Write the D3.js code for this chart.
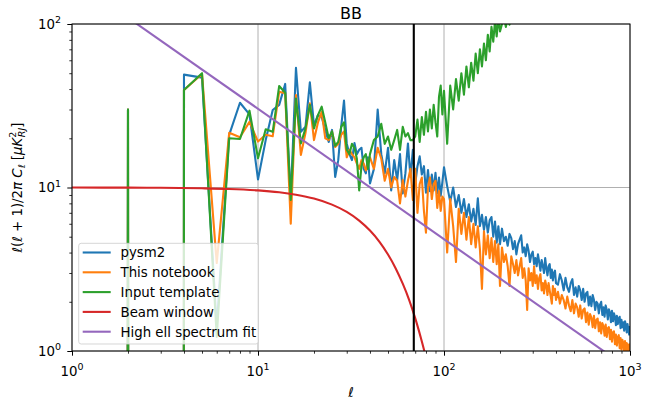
<!DOCTYPE html>
<html><head><meta charset="utf-8">
<script src="https://cdn.jsdelivr.net/npm/d3@7/dist/d3.min.js"></script>
<style>
body{margin:0;background:#fff}
text{font-family:"DejaVu Sans",sans-serif;fill:#000}
</style>
</head><body>
<svg id="chart" width="649" height="406"></svg>
<script>
// ---------------- data ----------------
const ells = [
  1,2,3,4,5,6,7,8,9,10,11,12,13,14,15,16,17,18,19,20,
  21,22,23,24,25,26,27,28,29,30,31,32,33,34,35,36,37,38,39,40,
  42,44,46,48,50,52,54,56,58,60,62,64,66,68,70,72,74,76,78,80,
  82,84,86,88,90,92,94,96,98,100,
  104,108,112,116,120,124,128,132,136,140,144,148,152,156,160,164,168,172,176,180,
  184,188,192,196,200,
  205,210,215,220,225,230,235,240,245,250,255,260,265,270,275,280,285,290,295,300,
  305,310,315,320,325,330,335,340,345,350,355,360,365,370,375,380,385,390,395,400,
  410,420,430,440,450,460,470,480,490,500,510,520,530,540,550,560,570,580,590,600,
  610,620,630,640,650,660,670,680,690,700,710,720,730,740,750,760,770,780,790,800,
  810,820,830,840,850,860,870,880,890,900,910,920,930,940,950,960,970,980,990,1000
];
const pysm2 = [
  0,30,0,49,47,1.4,21,33,28,11.2,19.5,29.8,32,43,8.5,54,21.9,23.5,44,24,
  27.7,27,22.5,19,22.5,11.6,14.7,23.5,34,18.6,16,14.7,18.7,16,17,17.5,13,12.2,15.3,10.6,
  13,30,16,12.2,17.5,9.6,14.7,11.1,16,9.2,12.2,18.6,11.6,17,10.5,13.5,15.5,12,13.5,9.3,
  12.8,9.5,12,9.6,12.3,9.2,11.5,8.9,10.8,13.3,
  10.2,8.2,10.0,7.6,9.0,7.0,8.5,6.6,7.9,6.2,7.4,5.9,8.6,5.8,6.8,5.5,6.6,5.3,6.3,6.6,
  5.0,6.2,4.6,5.8,4.5,
  5.6,4.7,5.0,4.4,5.2,4.9,4.2,4.7,3.9,4.5,4.8,5.1,4.0,4.3,3.8,4.5,4.1,3.5,3.9,4.05,
  3.4,3.7,3.3,3.9,3.5,3.1,3.6,3.3,3.0,3.7,3.2,2.9,3.3,3.4,2.8,3.15,2.7,3.0,3.1,2.6,
  2.55,2.95,2.7,2.35,2.8,2.45,2.3,2.6,2.75,2.2,2.45,2.15,2.5,2.35,2.05,2.4,2.0,2.25,2.3,1.9,
  2.15,1.88,2.2,2.05,1.78,2.0,1.95,1.7,1.92,2.0,1.66,1.85,1.62,1.9,1.78,1.56,1.8,1.72,1.5,1.76,
  1.52,1.7,1.62,1.44,1.64,1.46,1.58,1.62,1.38,1.55,1.4,1.5,1.33,1.52,1.44,1.3,1.46,1.34,1.26,1.42
];
const notebook = [
  0,30,0,39.5,49.5,3.45,21.6,20.3,25.2,19.1,21,20.6,38.5,37.7,6.0,36.8,15.8,21.5,32.7,19.5,
  25,29,20,19.5,22,17.7,18.5,21,22,15.3,17,16,15.3,14,13,14.7,14,12.7,14,15.3,
  13,17.5,15,11,13,10,11.6,11,8.0,11.1,8.8,11,13,8.4,13,7,10.5,11.5,7.2,5.3,
  10,11.5,8.5,10.5,11,7.5,9.5,7.2,8.8,8.5,
  4.0,8.5,5.8,3.5,7.4,5.2,7.0,4.8,6.6,4.5,6.0,4.3,5.8,4.2,2.4,5.4,3.9,5.1,3.7,4.9,
  3.5,4.7,3.4,4.5,2.5,
  4.3,3.5,3.9,3.3,2.5,3.8,3.4,3.0,3.6,2.9,3.3,3.7,2.8,3.2,2.7,1.78,3.2,2.7,3.0,2.5,
  3.3,2.6,2.9,2.4,2.8,2.95,2.35,2.6,2.25,2.7,2.5,2.2,2.6,2.35,2.15,1.95,2.5,2.2,2.4,2.05,
  2.3,1.95,2.2,2.05,1.82,2.15,1.9,1.75,2.05,1.7,1.95,1.85,1.62,1.9,1.58,1.78,1.82,1.5,1.72,1.45,
  1.68,1.6,1.4,1.64,1.38,1.55,1.58,1.32,1.5,1.28,1.48,1.42,1.24,1.45,1.22,1.38,1.4,1.18,1.35,1.14,
  1.3,1.32,1.1,1.26,1.08,1.22,1.25,1.04,1.2,1.02,1.17,1.12,0.99,1.15,0.98,1.12,1.08,0.96,1.1,0.95
];
const template = [
  0,30,0,39.5,50,1.22,20,19.8,29.5,15.1,22.7,21.9,41.8,38,8.4,35,18.6,23,32,23,
  27.7,31.2,25,20,22,18,19,23.5,25,17,16,18.5,17.5,15,9.6,13.5,15.3,16,13,16,
  19.5,20.5,24.5,18.5,20.5,17,19.5,22.5,17,23.5,20.5,21.5,19.5,19.5,20.5,26,19,27,21,29,
  22,30,23,32,25,20.5,36,42,28,39,
  18.5,42,30,46,34,50,37,55,41,58,45,66,50,70,55,76,60,86,68,96,
  78,104,84,110,90,
  100,112,96,108,99,118,105,124,112,132,118,138,126,145,134,152,140,160,148,166
];
const beamElls = [1,2,3,5,7,10,13,16,20,25,30,35,40,45,50,55,60,65,70,75,80,85];
const beamWindow = [9.99,9.98,9.96,9.89,9.8,9.6,9.35,9.04,8.56,7.86,7.09,6.27,5.45,4.65,3.89,3.2,2.58,2.05,1.59,1.21,0.91,0.67];
const fitElls = [1, 1000];
const fitValues = [190, 0.77];
const ellCut = 68.8;

const seriesNames = ["pysm2","This notebook","Input template","Beam window","High ell spectrum fit"];
const colors = ["#1f77b4","#ff7f0e","#2ca02c","#d62728","#9467bd"];
const xTickExps = [0,1,2,3];
const yTickExps = [0,1,2];
const titleText = "BB";

// ---------------- layout ----------------
const L = 72, R = 630, T = 24, B = 351;
const svg = d3.select("#chart");
const x = d3.scaleLog().domain([1,1000]).range([L,R]);
const y = d3.scaleLog().domain([1,100]).range([B,T]);
const FS = 13.33;

svg.append("rect").attr("width",649).attr("height",406).attr("fill","#fff");

svg.append("defs").append("clipPath").attr("id","clip")
  .append("rect").attr("x",L).attr("y",T).attr("width",R-L).attr("height",B-T);

// grid
const grid = svg.append("g");
xTickExps.forEach(e => {
  grid.append("line").attr("x1",x(10**e)).attr("x2",x(10**e)).attr("y1",T).attr("y2",B)
    .attr("stroke","#b0b0b0").attr("stroke-width",1);
});
yTickExps.forEach(e => {
  grid.append("line").attr("x1",L).attr("x2",R).attr("y1",y(10**e)).attr("y2",y(10**e))
    .attr("stroke","#b0b0b0").attr("stroke-width",1);
});

// series
const line = d3.line().x(d => x(d[0])).y(d => y(Math.max(d[1], 1e-300)));
const zip = (xs, vs) => vs.map((v,i) => [xs[i], v]);
const plot = svg.append("g").attr("clip-path","url(#clip)");
const seriesData = [
  zip(ells, pysm2), zip(ells, notebook), zip(ells, template)
];
seriesData.forEach((d,i) => {
  plot.append("path").attr("d", line(d)).attr("fill","none")
    .attr("stroke", colors[i]).attr("stroke-width",2.1)
    .attr("stroke-linejoin","round").attr("stroke-linecap","butt");
});
const smooth = d3.line().x(d => x(d[0])).y(d => y(d[1])).curve(d3.curveCatmullRom);
plot.append("path").attr("d", smooth(zip(beamElls, beamWindow))).attr("fill","none")
  .attr("stroke", colors[3]).attr("stroke-width",2.1);
plot.append("path").attr("d", line(zip(fitElls, fitValues))).attr("fill","none")
  .attr("stroke", colors[4]).attr("stroke-width",2.1);
plot.append("line").attr("x1",x(ellCut)).attr("x2",x(ellCut)).attr("y1",T).attr("y2",B)
  .attr("stroke","#000").attr("stroke-width",2.1);

// axes
const minorX = [], minorY = [];
[1,10,100].forEach(b => { for (let k=2;k<=9;k++) minorX.push(b*k); });
[1,10].forEach(b => { for (let k=2;k<=9;k++) minorY.push(b*k); });

const axX = svg.append("g").attr("transform",`translate(0,${B})`);
axX.call(d3.axisBottom(x).tickValues(xTickExps.map(e=>10**e)).tickFormat("").tickSizeInner(4.7).tickSizeOuter(0));
axX.append("g").call(d3.axisBottom(x).tickValues(minorX).tickFormat("").tickSizeInner(2.7).tickSizeOuter(0));
const axY = svg.append("g").attr("transform",`translate(${L},0)`);
axY.call(d3.axisLeft(y).tickValues(yTickExps.map(e=>10**e)).tickFormat("").tickSizeInner(4.7).tickSizeOuter(0));
axY.append("g").call(d3.axisLeft(y).tickValues(minorY).tickFormat("").tickSizeInner(2.7).tickSizeOuter(0));
svg.selectAll(".domain").remove();
svg.selectAll(".tick line").attr("stroke","#000");
svg.selectAll("g g .tick line").attr("stroke-width",0.8);

// spines
svg.append("rect").attr("x",L).attr("y",T).attr("width",R-L).attr("height",B-T)
  .attr("fill","none").attr("stroke","#000").attr("stroke-width",1);

// tick labels
xTickExps.forEach(e => {
  const t = svg.append("text").attr("x",x(10**e)).attr("y",375.5)
    .attr("text-anchor","middle").attr("font-size",FS);
  t.append("tspan").text("10");
  t.append("tspan").attr("font-size",9.5).attr("dy",-5.8).text(e);
});
yTickExps.forEach(e => {
  const t = svg.append("text").attr("x",61).attr("y",y(10**e)+4.8)
    .attr("text-anchor","end").attr("font-size",FS);
  t.append("tspan").text("10");
  t.append("tspan").attr("font-size",9.5).attr("dy",-5.8).text(e);
});

// title
svg.append("text").attr("x",(L+R)/2).attr("y",19).attr("text-anchor","middle")
  .attr("font-size",16).text(titleText);

// x label
svg.append("text").attr("x",(L+R)/2).attr("y",396.5).attr("text-anchor","middle")
  .attr("font-size",FS).attr("font-style","italic").text("ℓ");

// y label
const yl = svg.append("text").attr("transform",`translate(22,${(T+B)/2}) rotate(-90)`)
  .attr("text-anchor","middle").attr("font-size",FS);
yl.append("tspan").attr("font-style","italic").text("ℓ");
yl.append("tspan").text("(");
yl.append("tspan").attr("font-style","italic").text("ℓ");
yl.append("tspan").text(" + 1)/2");
yl.append("tspan").attr("font-style","italic").text("π");
yl.append("tspan").text(" ");
yl.append("tspan").attr("font-style","italic").text("C");
yl.append("tspan").attr("font-style","italic").attr("font-size",9.5).attr("dy",3).text("ℓ");
yl.append("tspan").attr("dy",-3).text(" [");
yl.append("tspan").attr("font-style","italic").text("μK");
yl.append("tspan").attr("font-size",9.5).attr("dy",-6).text("2");
yl.append("tspan").attr("font-style","italic").attr("font-size",9.5).attr("dx",-5.5).attr("dy",9).text("RJ");
yl.append("tspan").attr("dy",-3).text("]");

// legend
const lg = svg.append("g");
lg.append("rect").attr("x",78.7).attr("y",243.3).attr("width",179.6).attr("height",100.7)
  .attr("rx",2.5).attr("fill","#fff").attr("fill-opacity",0.8)
  .attr("stroke","#cccccc").attr("stroke-opacity",0.8).attr("stroke-width",1);
seriesNames.forEach((n,i) => {
  const cy = 252.5 + i*19.8;
  lg.append("line").attr("x1",82.7).attr("x2",110.7).attr("y1",cy).attr("y2",cy)
    .attr("stroke",colors[i]).attr("stroke-width",2.1);
  lg.append("text").attr("x",120.5).attr("y",cy+4.8).attr("font-size",FS).text(n);
});
</script>
</body></html>
